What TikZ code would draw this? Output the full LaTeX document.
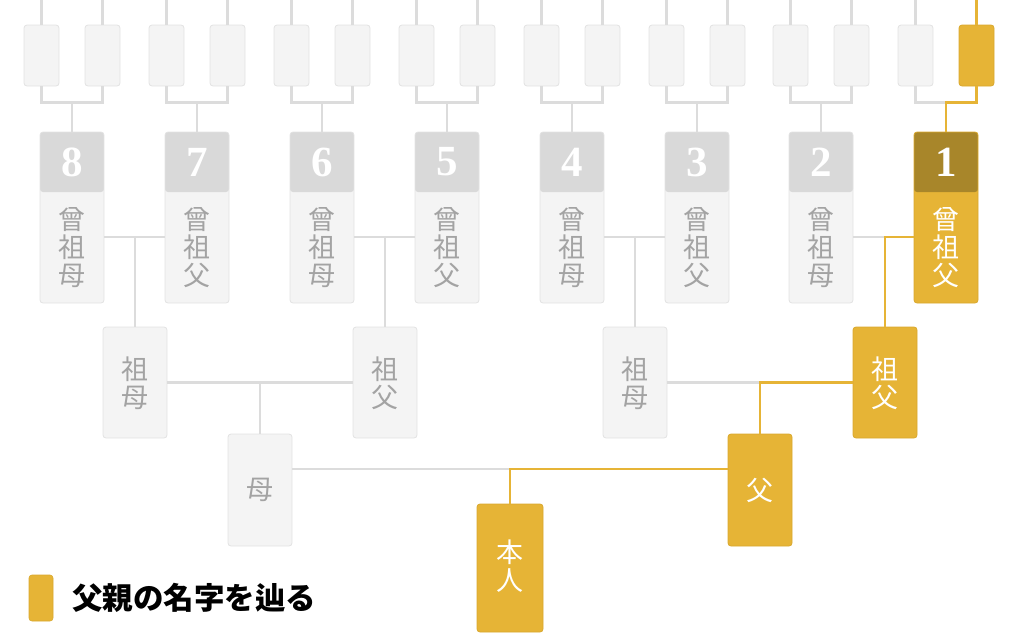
\documentclass[tikz,border=0pt]{standalone}
\usepackage{fontspec}
\setmainfont{Liberation Serif}
\newfontfamily\jp{Noto Sans CJK JP}
\definecolor{gold}{HTML}{E6B436}
\definecolor{golddark}{HTML}{A8862A}
\definecolor{goldedge}{HTML}{D9A82E}
\definecolor{boxgrey}{HTML}{F4F4F4}
\definecolor{boxedge}{HTML}{E2E2E2}
\definecolor{headgrey}{HTML}{D9D9D9}
\definecolor{txtgrey}{HTML}{A3A3A3}
\definecolor{linegrey}{HTML}{DCDCDC}
\tikzset{
  gbox/.style={draw=boxedge, line width=0.8pt, fill=boxgrey, rounded corners=3pt, inner sep=0pt, minimum width=64pt},
  ybox/.style={draw=goldedge, line width=0.8pt, fill=gold, rounded corners=3pt, inner sep=0pt, minimum width=64pt},
  smallbox/.style={minimum width=35pt, minimum height=61pt},
  ggsize/.style={minimum height=171pt},
  gpsize/.style={minimum height=111pt},
  psize/.style={minimum height=112pt},
  hdr/.style={path picture={\fill[#1] (path picture bounding box.north west) rectangle ([yshift=-60pt]path picture bounding box.north east);}},
  lbl/.style={font=\jp\fontsize{27}{28}\selectfont, align=center, inner sep=0pt, text=txtgrey},
  ylbl/.style={lbl, text=white},
  num/.style={font=\bfseries\fontsize{43}{43}\selectfont, text=white, inner sep=0pt},
  gline/.style={draw=linegrey, line width=2.4pt},
  yline/.style={draw=gold, line width=2.4pt},
}
\begin{document}
\begin{tikzpicture}[x=1pt,y=-1pt]
\useasboundingbox (0,0) rectangle (1024,632);

% great-grandparents
\foreach \i/\x/\t in {8/72/母,7/197/父,6/322/母,5/447/父,4/572/母,3/697/父,2/821/母}{
  \node[gbox, ggsize, hdr=headgrey] (gg\i) at (\x,217.5) {};
  \node[num] (n\i) at (\x,162) {\i};
  \node[lbl] (l\i) at (\x,248) {曾\\祖\\\t};
  \node[gbox, smallbox] (s\i a) at (\x-30.5,55.5) {};
  \node[gbox, smallbox] (s\i b) at (\x+30.5,55.5) {};
}
\node[ybox, ggsize, hdr=golddark] (gg1) at (946,217.5) {};
\node[num] (n1) at (946,162) {1};
\node[ylbl] (l1) at (946,248) {曾\\祖\\父};
\node[gbox, smallbox] (s1a) at (915.5,55.5) {};
\node[ybox, smallbox] (s1b) at (976.5,55.5) {};

% grandparents
\node[gbox, gpsize] (gpA) at (135,382.5) {};
\node[lbl] (lgpA) at (135,383) {祖\\母};
\node[gbox, gpsize] (gpB) at (385,382.5) {};
\node[lbl] (lgpB) at (385,383) {祖\\父};
\node[gbox, gpsize] (gpC) at (635,382.5) {};
\node[lbl] (lgpC) at (635,383) {祖\\母};
\node[ybox, gpsize] (gpD) at (885,382.5) {};
\node[ylbl] (lgpD) at (885,383) {祖\\父};

% parents
\node[gbox, psize] (mo) at (260,490) {};
\node[lbl] (lmo) at (260,490) {母};
\node[ybox, psize] (fa) at (760,490) {};
\node[ylbl] (lfa) at (760,490) {父};

% self
\node[ybox, minimum width=66pt, minimum height=128pt] (self) at (510,568) {};
\node[ylbl] (lself) at (510,566) {本\\人};

% top connectors
\foreach \i in {8,7,6,5,4,3,2}{
  \draw[gline] (s\i a.north) -- ++(0,-26);
  \draw[gline] (s\i b.north) -- ++(0,-26);
  \draw[gline] (s\i a.south) -- ++(0,16) -| (s\i b.south);
  \draw[gline] (gg\i.north) -- ++(0,-30);
}
\draw[gline] (s1a.north) -- ++(0,-26);
\draw[yline] (s1b.north) -- ++(0,-26);
\draw[gline] (s1a.south) -- ++(0,16) -| (gg1.north);
\draw[yline] (s1b.south) -- ++(0,16) -| (gg1.north);

% great-grandparent couples
\draw[gline] ([yshift=-19.5pt]gg8.east) -- ([yshift=-19.5pt]gg7.west);
\draw[gline] ([yshift=-19.5pt]gg6.east) -- ([yshift=-19.5pt]gg5.west);
\draw[gline] ([yshift=-19.5pt]gg4.east) -- ([yshift=-19.5pt]gg3.west);
\draw[gline] ([yshift=-19.5pt]gg2.east) -- ([yshift=-19.5pt]gg1.west);
\draw[gline] (gpA.north) -- ++(0,-90);
\draw[gline] (gpB.north) -- ++(0,-90);
\draw[gline] (gpC.north) -- ++(0,-90);
\draw[yline] ([yshift=-19.5pt]gg1.west) -| (gpD.north);

% grandparent couples
\draw[gline] (gpA.east) -- (gpB.west);
\draw[gline] (gpC.east) -- (gpD.west);
\draw[gline] (mo.north) -- ++(0,-51);
\draw[yline] (gpD.west) -| (fa.north);

% parents
\draw[gline] ([yshift=21pt]mo.east) -- ([yshift=21pt]fa.west);
\draw[yline] ([yshift=21pt]fa.west) -| (self.north);

% legend
\node[fill=gold, draw=goldedge, line width=0.6pt, rounded corners=3pt, minimum width=24pt, minimum height=46pt, inner sep=0pt] (key) at (41,598) {};
\node[font=\jp\bfseries\fontsize{30.5}{30.5}\selectfont, anchor=west, inner sep=0pt, text=black] (keytxt) at (72,598) {父親の名字を辿る};
\end{tikzpicture}
\end{document}
